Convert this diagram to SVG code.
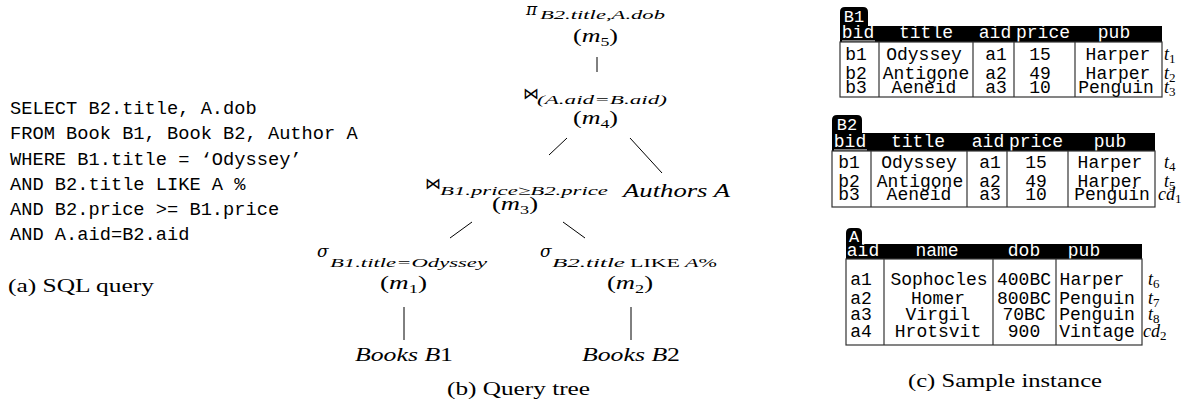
<svg xmlns="http://www.w3.org/2000/svg" width="1195" height="405" viewBox="0 0 1195 405">
<style>
.mono{font-family:"Liberation Mono","DejaVu Sans Mono",monospace;}
.sql{font-size:18.7px;fill:#000;}
.tb{font-size:18px;text-anchor:middle;fill:#000;}
.hd{font-size:18px;text-anchor:middle;fill:#fff;}
.tab{font-size:17px;text-anchor:middle;fill:#fff;}
.serif{font-family:"Liberation Serif","Times New Roman",serif;fill:#000;}
.it{font-style:italic;}
.up{font-style:normal;}
.big{font-size:19px;}
.tl{font-size:18px;}
.sub{font-size:13px;}
.greek{font-family:"DejaVu Serif","Liberation Serif",serif;font-size:17px;font-style:italic;fill:#000;}
.sym{font-family:"DejaVu Sans",sans-serif;font-size:16px;fill:#000;}
.cap{font-size:19px;}
.edge{stroke:#000;stroke-width:1;fill:none;}
.box{fill:none;stroke:#333;stroke-width:1.2;}
.sep{stroke:#333;stroke-width:1.2;}
.ul{stroke:#fff;stroke-width:1.2;}
</style>

<!-- (a) SQL query -->
<g id="sql">
<text class="mono sql" x="10" y="113.5">SELECT B2.title, A.dob</text>
<text class="mono sql" x="10" y="139">FROM Book B1, Book B2, Author A</text>
<text class="mono sql" x="10" y="164.5">WHERE B1.title = ‘Odyssey’</text>
<text class="mono sql" x="10" y="189.5">AND B2.title LIKE A %</text>
<text class="mono sql" x="10" y="215">AND B2.price &gt;= B1.price</text>
<text class="mono sql" x="10" y="240">AND A.aid=B2.aid</text>
<text class="serif cap" x="8" y="292" textLength="146" lengthAdjust="spacingAndGlyphs">(a) SQL query</text>
</g>

<!-- (b) Query tree -->
<g id="connectors">
<line class="edge" x1="597" y1="57" x2="597" y2="72"/>
<line class="edge" x1="567" y1="138" x2="549" y2="155"/>
<line class="edge" x1="630" y1="138" x2="662" y2="173"/>
<line class="edge" x1="472" y1="222" x2="450" y2="238"/>
<line class="edge" x1="563" y1="222" x2="585" y2="238"/>
<line class="edge" x1="404" y1="307" x2="404" y2="340"/>
<line class="edge" x1="631" y1="307" x2="631" y2="340"/>
</g>

<g id="m5">
<text class="greek" x="526" y="15">π</text>
<text class="serif it sub" x="540" y="19" textLength="125" lengthAdjust="spacingAndGlyphs">B2.title,A.dob</text>
<text class="serif big" x="573" y="42" textLength="45" lengthAdjust="spacingAndGlyphs">(<tspan class="it">m</tspan><tspan class="sub" dy="4">5</tspan><tspan dy="-4">)</tspan></text>
</g>

<g id="m4">
<text class="sym" x="523" y="99">⋈</text>
<text class="serif it sub" x="537" y="104" textLength="130" lengthAdjust="spacingAndGlyphs">(A.aid=B.aid)</text>
<text class="serif big" x="573" y="124" textLength="45" lengthAdjust="spacingAndGlyphs">(<tspan class="it">m</tspan><tspan class="sub" dy="4">4</tspan><tspan dy="-4">)</tspan></text>
</g>

<g id="m3">
<text class="sym" x="425" y="189">⋈</text>
<text class="serif it sub" x="440" y="195" textLength="168" lengthAdjust="spacingAndGlyphs">B1.price≥B2.price</text>
<text class="serif big" x="492" y="210" textLength="46" lengthAdjust="spacingAndGlyphs">(<tspan class="it">m</tspan><tspan class="sub" dy="4">3</tspan><tspan dy="-4">)</tspan></text>
</g>

<g id="authors">
<text class="serif it big" x="623" y="197" textLength="107" lengthAdjust="spacingAndGlyphs">Authors A</text>
</g>

<g id="m1">
<text class="greek" x="317" y="257">σ</text>
<text class="serif it sub" x="330" y="267" textLength="157" lengthAdjust="spacingAndGlyphs">B1.title=Odyssey</text>
<text class="serif big" x="380" y="289" textLength="47" lengthAdjust="spacingAndGlyphs">(<tspan class="it">m</tspan><tspan class="sub" dy="4">1</tspan><tspan dy="-4">)</tspan></text>
</g>

<g id="m2">
<text class="greek" x="540" y="257">σ</text>
<text class="serif it sub" x="552" y="267" textLength="73" lengthAdjust="spacingAndGlyphs">B2.title</text>
<text class="serif sub" x="630" y="267" textLength="50" lengthAdjust="spacingAndGlyphs">LIKE</text>
<text class="serif sub" x="685" y="267" textLength="32" lengthAdjust="spacingAndGlyphs"><tspan class="it">A</tspan>%</text>
<text class="serif big" x="607" y="289" textLength="46" lengthAdjust="spacingAndGlyphs">(<tspan class="it">m</tspan><tspan class="sub" dy="4">2</tspan><tspan dy="-4">)</tspan></text>
</g>

<g id="books1">
<text class="serif it big" x="355" y="361" textLength="98" lengthAdjust="spacingAndGlyphs">Books B<tspan class="up">1</tspan></text>
</g>
<g id="books2">
<text class="serif it big" x="582" y="361" textLength="98" lengthAdjust="spacingAndGlyphs">Books B<tspan class="up">2</tspan></text>
</g>

<text class="serif cap" x="447" y="395" textLength="143" lengthAdjust="spacingAndGlyphs">(b) Query tree</text>

<!-- (c) Sample instance -->
<g id="tableB1">
<path d="M840,27 V12 Q840,7 845,7 H863 Q868,7 868,12 V27 Z" fill="#000"/>
<text class="mono tab" x="854" y="22">B1</text>
<rect x="840" y="26" width="322" height="16" fill="#000"/>
<text class="mono hd" x="858" y="38">bid</text>
<line class="ul" x1="842" y1="41" x2="875" y2="41"/>
<text class="mono hd" x="926" y="38">title</text>
<text class="mono hd" x="995" y="38">aid</text>
<text class="mono hd" x="1043" y="38">price</text>
<text class="mono hd" x="1114" y="38">pub</text>
<rect class="box" x="840" y="42" width="322" height="55"/>
<line class="sep" x1="879" y1="42" x2="879" y2="97"/>
<line class="sep" x1="973" y1="42" x2="973" y2="97"/>
<line class="sep" x1="1014" y1="42" x2="1014" y2="97"/>
<line class="sep" x1="1075" y1="42" x2="1075" y2="97"/>
<text class="mono tb" x="856" y="60">b1</text><text class="mono tb" x="924" y="60">Odyssey</text><text class="mono tb" x="996" y="60">a1</text><text class="mono tb" x="1040" y="60">15</text><text class="mono tb" x="1118" y="60">Harper</text>
<text class="mono tb" x="856" y="78.5">b2</text><text class="mono tb" x="926" y="78.5">Antigone</text><text class="mono tb" x="996" y="78.5">a2</text><text class="mono tb" x="1040" y="78.5">49</text><text class="mono tb" x="1118" y="78.5">Harper</text>
<text class="mono tb" x="856" y="93">b3</text><text class="mono tb" x="924" y="93">Aeneid</text><text class="mono tb" x="996" y="93">a3</text><text class="mono tb" x="1040" y="93">10</text><text class="mono tb" x="1116" y="93">Penguin</text>
<text class="serif it tl" x="1164" y="60">t<tspan class="sub up" dy="3">1</tspan></text>
<text class="serif it tl" x="1164" y="78.5">t<tspan class="sub up" dy="3">2</tspan></text>
<text class="serif it tl" x="1164" y="93">t<tspan class="sub up" dy="3">3</tspan></text>
</g>

<g id="tableB2">
<path d="M832,134 V120 Q832,115 837,115 H857 Q862,115 862,120 V134 Z" fill="#000"/>
<text class="mono tab" x="847" y="130">B2</text>
<rect x="832" y="133" width="323" height="18" fill="#000"/>
<text class="mono hd" x="850" y="147">bid</text>
<line class="ul" x1="834" y1="150" x2="867" y2="150"/>
<text class="mono hd" x="918" y="147">title</text>
<text class="mono hd" x="988" y="147">aid</text>
<text class="mono hd" x="1036" y="147">price</text>
<text class="mono hd" x="1110" y="147">pub</text>
<rect class="box" x="832" y="151" width="323" height="56"/>
<line class="sep" x1="871" y1="151" x2="871" y2="207"/>
<line class="sep" x1="967" y1="151" x2="967" y2="207"/>
<line class="sep" x1="1007" y1="151" x2="1007" y2="207"/>
<line class="sep" x1="1068" y1="151" x2="1068" y2="207"/>
<text class="mono tb" x="849" y="168">b1</text><text class="mono tb" x="919" y="168">Odyssey</text><text class="mono tb" x="990" y="168">a1</text><text class="mono tb" x="1036" y="168">15</text><text class="mono tb" x="1110" y="168">Harper</text>
<text class="mono tb" x="849" y="186.5">b2</text><text class="mono tb" x="920" y="186.5">Antigone</text><text class="mono tb" x="990" y="186.5">a2</text><text class="mono tb" x="1036" y="186.5">49</text><text class="mono tb" x="1110" y="186.5">Harper</text>
<text class="mono tb" x="849" y="200">b3</text><text class="mono tb" x="919" y="200">Aeneid</text><text class="mono tb" x="990" y="200">a3</text><text class="mono tb" x="1036" y="200">10</text><text class="mono tb" x="1112" y="200">Penguin</text>
<text class="serif it tl" x="1164" y="168">t<tspan class="sub up" dy="3">4</tspan></text>
<text class="serif it tl" x="1164" y="186.5">t<tspan class="sub up" dy="3">5</tspan></text>
<text class="serif it tl" x="1158" y="200">cd<tspan class="sub up" dy="3">1</tspan></text>
</g>

<g id="tableA">
<path d="M846,245 V233 Q846,228 851,228 H857 Q862,228 862,233 V245 Z" fill="#000"/>
<text class="mono tab" x="854" y="242">A</text>
<rect x="846" y="244" width="296" height="15" fill="#000"/>
<text class="mono hd" x="863" y="256">aid</text>
<text class="mono hd" x="937" y="256">name</text>
<text class="mono hd" x="1024" y="256">dob</text>
<text class="mono hd" x="1084" y="256">pub</text>
<rect class="box" x="846" y="259" width="296" height="86"/>
<line class="sep" x1="884" y1="259" x2="884" y2="345"/>
<line class="sep" x1="993" y1="259" x2="993" y2="345"/>
<line class="sep" x1="1056" y1="259" x2="1056" y2="345"/>
<text class="mono tb" x="861" y="285">a1</text><text class="mono tb" x="939" y="285">Sophocles</text><text class="mono tb" x="1024" y="285">400BC</text><text class="mono tb" x="1092" y="285">Harper</text>
<text class="mono tb" x="861" y="304">a2</text><text class="mono tb" x="938" y="304">Homer</text><text class="mono tb" x="1024" y="304">800BC</text><text class="mono tb" x="1097" y="304">Penguin</text>
<text class="mono tb" x="861" y="320">a3</text><text class="mono tb" x="938" y="320">Virgil</text><text class="mono tb" x="1024" y="320">70BC</text><text class="mono tb" x="1097" y="320">Penguin</text>
<text class="mono tb" x="861" y="337">a4</text><text class="mono tb" x="938" y="337">Hrotsvit</text><text class="mono tb" x="1024" y="337">900</text><text class="mono tb" x="1097" y="337">Vintage</text>
<text class="serif it tl" x="1148" y="285">t<tspan class="sub up" dy="3">6</tspan></text>
<text class="serif it tl" x="1148" y="304">t<tspan class="sub up" dy="3">7</tspan></text>
<text class="serif it tl" x="1148" y="320">t<tspan class="sub up" dy="3">8</tspan></text>
<text class="serif it tl" x="1143" y="337">cd<tspan class="sub up" dy="3">2</tspan></text>
</g>

<text class="serif cap" x="908" y="387" textLength="194" lengthAdjust="spacingAndGlyphs">(c) Sample instance</text>
</svg>
